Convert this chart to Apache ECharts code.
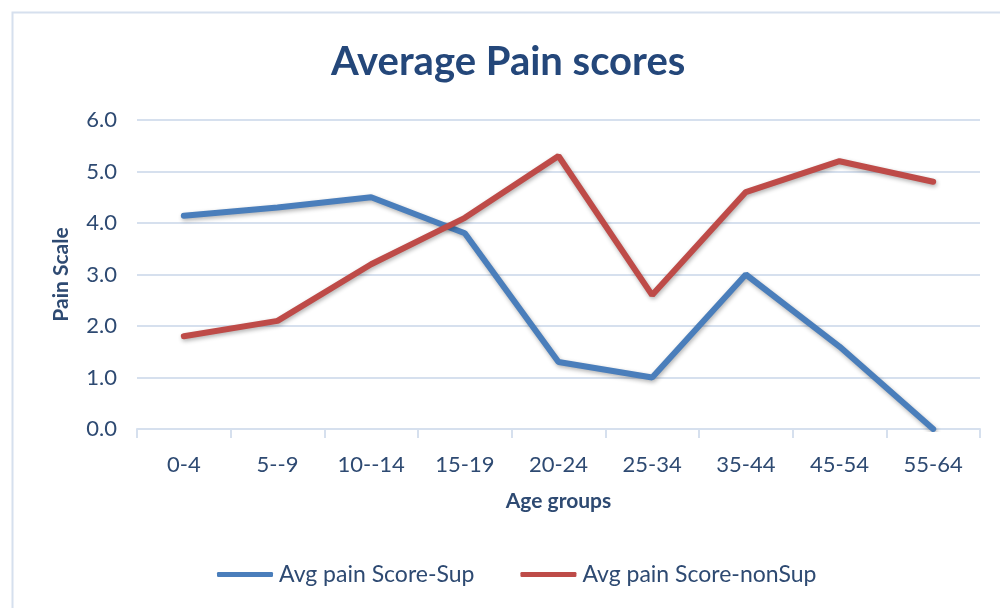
<!DOCTYPE html>
<html>
<head>
<meta charset="utf-8">
<script src="https://cdn.jsdelivr.net/npm/echarts@6/dist/echarts.min.js"></script>
<style>
  html, body { margin: 0; padding: 0; background: #fff; }
  #main { width: 1000px; height: 608px; }
</style>
</head>
<body>
<div id="main"></div>
<script>
// age groups along the x axis
const ageGroups = ['0-4', '5--9', '10--14', '15-19', '20-24', '25-34', '35-44', '45-54', '55-64']
// average pain scores per group
const painSup = [4.14, 4.3, 4.5, 3.8, 1.3, 1.0, 3.0, 1.6, 0.0]
const painNonSup = [1.8, 2.1, 3.2, 4.1, 5.3, 2.6, 4.6, 5.2, 4.8]

const textColor = '#2E4A72'
const fontFam = 'Lato, "Open Sans", sans-serif'

let chart = echarts.init(document.getElementById('main'), null, { renderer: 'canvas' })

let option = {
  animation: false,
  graphic: [
    {
      type: 'rect',
      shape: { x: 12.5, y: 12.5, width: 1000, height: 620 },
      style: { fill: 'none', stroke: '#D6E0EE', lineWidth: 2 },
      silent: true,
    },
  ],
  title: {
    text: 'Average Pain scores',
    left: 326,
    top: 37,
    padding: 5,
    textStyle: {
      color: '#24477A',
      fontSize: 40,
      fontWeight: 'bold',
      fontFamily: fontFam,
    },
  },
  legend: {
    bottom: 17,
    left: 212,
    itemWidth: 56,
    itemHeight: 5,
    itemGap: 46,
    icon: 'roundRect',
    textStyle: { color: textColor, fontSize: 23, fontFamily: fontFam, padding: [0, 0, 0, 1] },
    data: ['Avg pain Score-Sup', 'Avg pain Score-nonSup'],
  },
  grid: {
    left: 137,
    right: 20,
    top: 120,
    bottom: 179,
  },
  xAxis: {
    type: 'category',
    data: ageGroups,
    boundaryGap: true,
    name: 'Age groups',
    nameLocation: 'middle',
    nameGap: 62,
    nameTextStyle: { color: textColor, fontSize: 21, fontWeight: 'bold', fontFamily: fontFam },
    axisLine: { lineStyle: { color: '#D6E0EE', width: 2 } },
    axisTick: { show: true, length: 9, lineStyle: { color: '#D6E0EE', width: 2 } },
    axisLabel: { color: textColor, fontSize: 22, margin: 25, fontFamily: fontFam },
  },
  yAxis: {
    type: 'value',
    min: 0,
    max: 6,
    interval: 1,
    name: 'Pain Scale',
    nameLocation: 'middle',
    nameGap: 65,
    nameMoveOverlap: false,
    nameTextStyle: { color: textColor, fontSize: 21, fontWeight: 'bold', fontFamily: fontFam },
    axisLine: { show: false },
    axisTick: { show: false },
    axisLabel: {
      color: textColor,
      fontSize: 22,
      margin: 20,
      fontFamily: fontFam,
      formatter: (v) => v.toFixed(1),
    },
    splitLine: { lineStyle: { color: '#D6E0EE', width: 2 } },
  },
  series: [
    {
      name: 'Avg pain Score-Sup',
      type: 'line',
      data: painSup,
      symbol: 'none',
      color: '#4A7EBB',
      lineStyle: {
        width: 6,
        color: '#4A7EBB',
        cap: 'round',
        shadowColor: 'rgba(0,0,0,0.3)',
        shadowBlur: 4,
        shadowOffsetX: 1,
        shadowOffsetY: 2,
      },
    },
    {
      name: 'Avg pain Score-nonSup',
      type: 'line',
      data: painNonSup,
      symbol: 'none',
      color: '#BE4B48',
      lineStyle: {
        width: 6,
        color: '#BE4B48',
        cap: 'round',
        shadowColor: 'rgba(0,0,0,0.3)',
        shadowBlur: 4,
        shadowOffsetX: 1,
        shadowOffsetY: 2,
      },
    },
  ],
}

chart.setOption(option)
</script>
</body>
</html>
